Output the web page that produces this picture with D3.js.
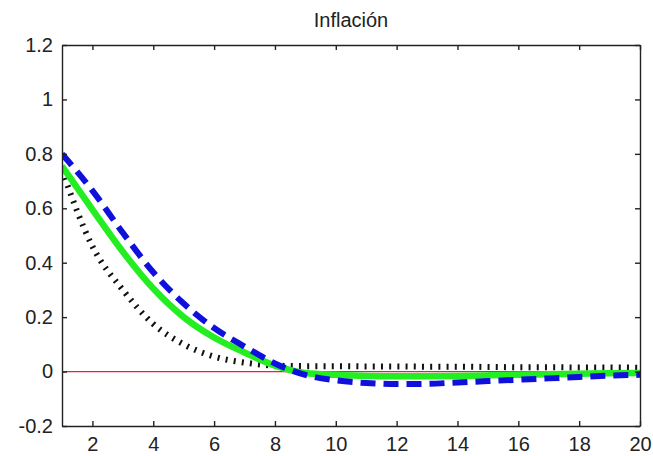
<!DOCTYPE html>
<html>
<head>
<meta charset="utf-8">
<script src="https://cdn.jsdelivr.net/npm/d3@7"></script>
<style>
  body { margin: 0; background: #fff; }
  svg text { font-family: "Liberation Sans", Arial, sans-serif; font-size: 20px; fill: #222; }
</style>
</head>
<body>
<div id="chart"></div>
<script>
// periods 1..20
var periods = d3.range(1, 21);

// impulse responses
var greenSolid = [0.755, 0.595, 0.44, 0.305, 0.20, 0.125, 0.070, 0.022, -0.005, -0.012,
                  -0.016, -0.017, -0.017, -0.016, -0.014, -0.012, -0.010, -0.008, -0.006, -0.005];
var blueDashed = [0.80, 0.665, 0.51, 0.365, 0.25, 0.16, 0.092, 0.03, -0.012, -0.032,
                  -0.042, -0.046, -0.045, -0.040, -0.035, -0.030, -0.025, -0.020, -0.015, -0.012];
var blackDotted = [0.74, 0.46, 0.30, 0.175, 0.10, 0.055, 0.033, 0.022, 0.020, 0.020,
                   0.019, 0.019, 0.018, 0.018, 0.017, 0.016, 0.016, 0.015, 0.015, 0.014];
var zeroLine = [0, 0];

var xTicks = [2, 4, 6, 8, 10, 12, 14, 16, 18, 20];
var yTicks = [-0.2, 0, 0.2, 0.4, 0.6, 0.8, 1, 1.2];
var yTickLabels = ["-0.2", "0", "0.2", "0.4", "0.6", "0.8", "1", "1.2"];
var title = "Inflación";

var width = 653, height = 456;
var margin = {left: 62, right: 13, top: 45, bottom: 30};

var svg = d3.select("#chart")
            .append("svg")
            .attr("width", width)
            .attr("height", height);

var x = d3.scaleLinear().domain([1, 20]).range([margin.left, width - margin.right]);
var y = d3.scaleLinear().domain([-0.2, 1.2]).range([height - margin.bottom, margin.top]);

svg.append("clipPath").attr("id", "plotclip")
   .append("rect")
   .attr("x", x(1)).attr("y", y(1.2))
   .attr("width", x(20) - x(1)).attr("height", y(-0.2) - y(1.2));

var plot = svg.append("g").attr("clip-path", "url(#plotclip)");

var line = d3.line()
             .x(function(d, i){ return x(periods[i]); })
             .y(function(d){ return y(d); })
             .curve(d3.curveMonotoneX);

// red zero line
plot.append("line")
    .attr("x1", x(1)).attr("x2", x(20))
    .attr("y1", y(zeroLine[0])).attr("y2", y(zeroLine[1]))
    .attr("stroke", "#f01c38")
    .attr("stroke-width", 1.3);

plot.append("path")
    .datum(blackDotted)
    .attr("d", line)
    .attr("fill", "none")
    .attr("stroke", "#111")
    .attr("stroke-width", 6)
    .attr("stroke-dasharray", "2,6.2");

plot.append("path")
    .datum(greenSolid)
    .attr("d", line)
    .attr("fill", "none")
    .attr("stroke", "#22ee22")
    .attr("stroke-width", 6.5);

plot.append("path")
    .datum(blueDashed)
    .attr("d", line)
    .attr("fill", "none")
    .attr("stroke", "#1010dd")
    .attr("stroke-width", 6)
    .attr("stroke-dasharray", "15,8");

// axes, ticks pointing inwards
var axisColor = "#222";

var axBottom = svg.append("g")
   .attr("transform", "translate(0," + y(-0.2) + ")")
   .call(d3.axisBottom(x).tickValues(xTicks).tickSizeInner(-5).tickSizeOuter(0).tickPadding(11)
           .tickFormat(function(d){ return d; }));

var axLeft = svg.append("g")
   .attr("transform", "translate(" + x(1) + ",0)")
   .call(d3.axisLeft(y).tickValues(yTicks).tickSizeInner(-5).tickSizeOuter(0).tickPadding(9)
           .tickFormat(function(d, i){ return yTickLabels[i]; }));

var axTop = svg.append("g")
   .attr("transform", "translate(0," + y(1.2) + ")")
   .call(d3.axisTop(x).tickValues(xTicks).tickSizeInner(-5).tickSizeOuter(0).tickFormat(""));

var axRight = svg.append("g")
   .attr("transform", "translate(" + x(20) + ",0)")
   .call(d3.axisRight(y).tickValues(yTicks).tickSizeInner(-5).tickSizeOuter(0).tickFormat(""));

[axBottom, axLeft, axTop, axRight].forEach(function(g){
  g.selectAll("path, line").attr("stroke", axisColor).attr("stroke-width", 1.4);
  g.selectAll("text").attr("font-size", null).attr("font-family", null).attr("fill", axisColor);
});

svg.append("text")
   .attr("x", (x(1) + x(20)) / 2)
   .attr("y", 27)
   .attr("text-anchor", "middle")
   .text(title);
</script>
</body>
</html>
